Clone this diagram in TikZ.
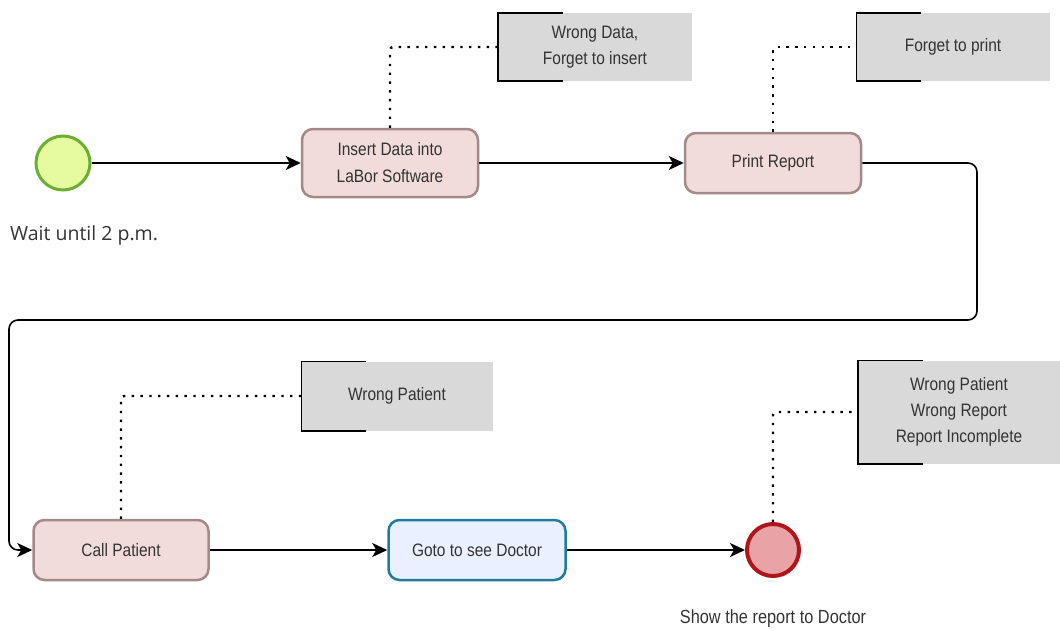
\documentclass[tikz,border=0pt]{standalone}
\usepackage{fontspec}
\setmainfont{Liberation Sans}[FakeStretch=0.86]
\newfontfamily\waitfont{Open Sans}
\usetikzlibrary{arrows.meta}
\definecolor{taskfill}{HTML}{F2DCDB}
\definecolor{taskline}{HTML}{A3898A}
\definecolor{gotofill}{HTML}{EAF0FF}
\definecolor{gotoline}{HTML}{1F7C9A}
\definecolor{startfill}{HTML}{E6FAA0}
\definecolor{startline}{HTML}{6AAE32}
\definecolor{endfill}{HTML}{E9A3A6}
\definecolor{endline}{HTML}{B0151C}
\definecolor{notefill}{HTML}{D9D9D9}
\definecolor{txt}{HTML}{333333}
\tikzset{
  task/.style={draw=taskline, fill=taskfill, line width=2.5pt, rounded corners=11pt,
    inner sep=0pt, align=center, text=txt, font=\fontsize{18}{27}\selectfont},
  gototask/.style={task, draw=gotoline, fill=gotofill},
  startev/.style={circle, draw=startline, fill=startfill, line width=3pt, minimum size=54pt, inner sep=0pt},
  endev/.style={circle, draw=endline, fill=endfill, line width=4pt, minimum size=52pt, inner sep=0pt},
  note/.style={fill=notefill, inner sep=0pt, align=center, text=txt, font=\fontsize{18}{26}\selectfont},
  flow/.style={draw=black, line width=1.6pt, -{Stealth[length=15pt,width=14pt,inset=4pt]}},
  assoc/.style={draw=black, line width=2.4pt, dash pattern=on 2.4pt off 6.4pt},
  bracket/.style={draw=black, line width=1.6pt},
  caption/.style={text=txt, inner sep=0pt},
}
\begin{document}
\begin{tikzpicture}[x=1pt, y=-1pt]
\useasboundingbox (0,0) rectangle (1060,630);
% events
\node[startev] (start) at (63,163) {};
\node[caption, font=\waitfont\fontsize{19.5}{22}\selectfont, anchor=west] (waitlbl) at (10,235) {Wait until 2 p.m.};
\node[endev] (end) at (773,550) {};
\node[caption, font=\fontsize{19}{22}\selectfont] (endlbl) at (773,619) {Show the report to Doctor};
% tasks
\node[task, minimum width=176pt, minimum height=68pt] (ins) at (390,163) {Insert Data into\\LaBor Software};
\node[task, minimum width=176pt, minimum height=60pt] (pr) at (773,163) {Print Report};
\node[task, minimum width=175pt, minimum height=60pt] (call) at (121,550) {Call Patient};
\node[gototask, minimum width=177pt, minimum height=60pt] (goto) at (477,550) {Goto to see Doctor};
% annotations
\node[note, minimum width=194pt, minimum height=68pt] (n1) at (595,47) {Wrong Data,\\Forget to insert};
\node[note, minimum width=193pt, minimum height=68pt] (n2) at (953,47) {Forget to print};
\node[note, minimum width=191pt, minimum height=69pt] (n3) at (397,396) {Wrong Patient};
\node[note, minimum width=202pt, minimum height=103pt] (n4) at (959,412) {Wrong Patient\\Wrong Report\\Report Incomplete};
\foreach \n in {n1,n2,n3,n4}{
  \draw[bracket] ([xshift=65pt]\n.north west) -- (\n.north west) -- (\n.south west) -- ([xshift=65pt]\n.south west);
}
% associations
\draw[assoc, rounded corners=3pt] (ins.north) |- (n1.west);
\draw[assoc, rounded corners=3pt] (pr.north) |- (n2.west);
\draw[assoc, rounded corners=3pt] (call.north) |- (n3.west);
\draw[assoc, rounded corners=3pt] (end.north) |- (n4.west);
% sequence flows
\coordinate (r1) at (977,320);
\coordinate (l1) at (9,320);
\draw[flow] (start) -- (ins);
\draw[flow] (ins) -- (pr);
\draw[flow, rounded corners=9pt] (pr.east) -| (r1) -- (l1) |- (call.west);
\draw[flow] (call) -- (goto);
\draw[flow] (goto) -- (end);
\end{tikzpicture}
\end{document}
